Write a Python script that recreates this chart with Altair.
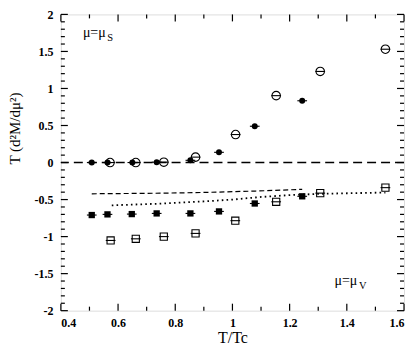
import altair as alt
import pandas as pd

# ---------------- data ----------------
# mu = mu_S : filled circles and open circles
fs_x = [0.508, 0.563, 0.650, 0.735, 0.853, 0.953, 1.078, 1.244]
fs_y = [0.0, 0.0, 0.0, 0.005, 0.03, 0.138, 0.49, 0.834]
os_x = [0.572, 0.662, 0.760, 0.871, 1.011, 1.153, 1.307, 1.535]
os_y = [0.0, 0.0, 0.005, 0.073, 0.378, 0.903, 1.23, 1.53]
# mu = mu_V : filled squares and open squares
fv_x = [0.508, 0.563, 0.648, 0.735, 0.853, 0.953, 1.078, 1.244]
fv_y = [-0.709, -0.700, -0.696, -0.687, -0.687, -0.660, -0.553, -0.456]
ov_x = [0.574, 0.662, 0.760, 0.871, 1.010, 1.153, 1.307, 1.535]
ov_y = [-1.052, -1.030, -1.000, -0.957, -0.785, -0.530, -0.413, -0.339]
# horizontal error half-widths
x_err = [0.017] * 8

# dashed curve
dash_x = [0.508, 0.75, 0.90, 1.08, 1.244]
dash_y = [-0.422, -0.414, -0.404, -0.385, -0.362]
# dotted curve
dot_x = [0.578, 0.75, 0.90, 1.00, 1.10, 1.20, 1.30, 1.40, 1.535]
dot_y = [-0.578, -0.555, -0.525, -0.500, -0.465, -0.440, -0.423, -0.415, -0.405]

# tick values
x_major = [0.4, 0.6, 0.8, 1.0, 1.2, 1.4, 1.6]
x_minor = [0.5, 0.7, 0.9, 1.1, 1.3, 1.5]
y_major = [-2, -1.5, -1, -0.5, 0, 0.5, 1, 1.5, 2]
y_minor = [-1.9, -1.8, -1.7, -1.6, -1.4, -1.3, -1.2, -1.1, -0.9, -0.8, -0.7, -0.6,
           -0.4, -0.3, -0.2, -0.1, 0.1, 0.2, 0.3, 0.4, 0.6, 0.7, 0.8, 0.9,
           1.1, 1.2, 1.3, 1.4, 1.6, 1.7, 1.8, 1.9]

# annotations
lab_text = ["μ=μ", "μ=μ"]
lab_sub = ["S", "V"]
lab_x = [0.477, 1.357]
lab_y = [1.695, -1.652]

# ---------------- chart ----------------
W, H = 344, 297
FONT = "Liberation Serif"
xs = alt.Scale(domain=[0.4, 1.6], nice=False, zero=False)
ys = alt.Scale(domain=[-2, 2], nice=False, zero=False)

xaxis = alt.Axis(values=x_major, labelExpr="'' + datum.value", ticks=False, tickSize=0,
                 domain=False, grid=False, labelFont=FONT, labelFontWeight="bold",
                 labelFontSize=12, labelColor="black", labelPadding=7, labelBaseline="top",
                 title="T/Tc", titleFont=FONT, titleFontSize=16, titleFontWeight="normal",
                 titleColor="black", titleY=32, titleBaseline="alphabetic")
yaxis = alt.Axis(values=y_major, labelExpr="'' + datum.value", ticks=False, tickSize=0,
                 domain=False, grid=False, labelFont=FONT, labelFontWeight="bold",
                 labelFontSize=12, labelColor="black", labelPadding=8,
                 title="T (d²M/dμ²)", titleFont=FONT, titleFontSize=15,
                 titleFontWeight="normal", titleColor="black", titleAngle=270,
                 titleX=-41, titleY=114, titleAlign="center", titleBaseline="alphabetic")


def X(f):
    return alt.X(f"{f}:Q", scale=xs, axis=xaxis)


def Y(f):
    return alt.Y(f"{f}:Q", scale=ys, axis=yaxis)


def pts(x, y, e):
    return pd.DataFrame({"x": x, "y": y,
                         "lo": [a - b for a, b in zip(x, e)],
                         "hi": [a + b for a, b in zip(x, e)]})


d_fs, d_os, d_fv, d_ov = pts(fs_x, fs_y, x_err), pts(os_x, os_y, x_err), \
    pts(fv_x, fv_y, x_err), pts(ov_x, ov_y, x_err)

layers = []

# zero dashed line
layers.append(alt.Chart(pd.DataFrame({"y": [0]})).mark_rule(
    color="black", strokeWidth=1.4, strokeDash=[9, 5]).encode(y=Y("y")))

# curves
layers.append(alt.Chart(pd.DataFrame({"x": dash_x, "y": dash_y})).mark_line(
    color="black", strokeWidth=1.2, strokeDash=[5, 3]).encode(x=X("x"), y=Y("y")))
layers.append(alt.Chart(pd.DataFrame({"x": dot_x, "y": dot_y})).mark_line(
    color="black", strokeWidth=1.8, strokeDash=[1.6, 3.2]).encode(x=X("x"), y=Y("y")))

# error bars
for d in (d_fs, d_os, d_fv, d_ov):
    layers.append(alt.Chart(d).mark_rule(color="black", strokeWidth=1.1).encode(
        x=X("lo"), x2="hi", y=Y("y")))

# markers
layers.append(alt.Chart(d_fs).mark_point(shape="circle", filled=True, size=36, color="black",
                                         opacity=1).encode(x=X("x"), y=Y("y")))
layers.append(alt.Chart(d_os).mark_point(shape="circle", filled=False, size=72, color="black",
                                         strokeWidth=1.1, opacity=1).encode(x=X("x"), y=Y("y")))
layers.append(alt.Chart(d_fv).mark_point(shape="square", filled=True, size=40, color="black",
                                         opacity=1).encode(x=X("x"), y=Y("y")))
layers.append(alt.Chart(d_ov).mark_point(shape="square", filled=False, size=52, color="black",
                                         strokeWidth=1.1, opacity=1).encode(x=X("x"), y=Y("y")))

# inside ticks on all four sides
dxM = pd.DataFrame({"v": x_major})
dxm = pd.DataFrame({"v": x_minor})
dyM = pd.DataFrame({"v": y_major})
dym = pd.DataFrame({"v": y_minor})
for d, L in ((dxM, 7), (dxm, 4)):
    layers.append(alt.Chart(d).mark_rule(color="black", strokeWidth=1.2).encode(
        x=X("v"), y=alt.value(H), y2=alt.value(H - L)))
    layers.append(alt.Chart(d).mark_rule(color="black", strokeWidth=1.2).encode(
        x=X("v"), y=alt.value(0), y2=alt.value(L)))
for d, L in ((dyM, 7), (dym, 4)):
    layers.append(alt.Chart(d).mark_rule(color="black", strokeWidth=1.2).encode(
        y=Y("v"), x=alt.value(0), x2=alt.value(L)))
    layers.append(alt.Chart(d).mark_rule(color="black", strokeWidth=1.2).encode(
        y=Y("v"), x=alt.value(W), x2=alt.value(W - L)))

# annotations
dl = pd.DataFrame({"x": lab_x, "y": lab_y, "t": lab_text, "s": lab_sub})
layers.append(alt.Chart(dl).mark_text(font=FONT, fontSize=14, align="left",
                                      baseline="alphabetic", color="black").encode(
    x=X("x"), y=Y("y"), text="t:N"))
layers.append(alt.Chart(dl).mark_text(font=FONT, fontSize=10.5, align="left",
                                      baseline="alphabetic", color="black", dx=24.5, dy=4).encode(
    x=X("x"), y=Y("y"), text="s:N"))

chart = alt.layer(*layers).properties(
    width=W, height=H,
    padding={"left": 53, "top": 6, "right": 2, "bottom": 34},
    autosize=alt.AutoSizeParams(type="none"),
).configure_view(stroke="black", strokeWidth=1.3).configure(background="white")

chart.save("out.html", embed_options={"renderer": "svg", "actions": False})
